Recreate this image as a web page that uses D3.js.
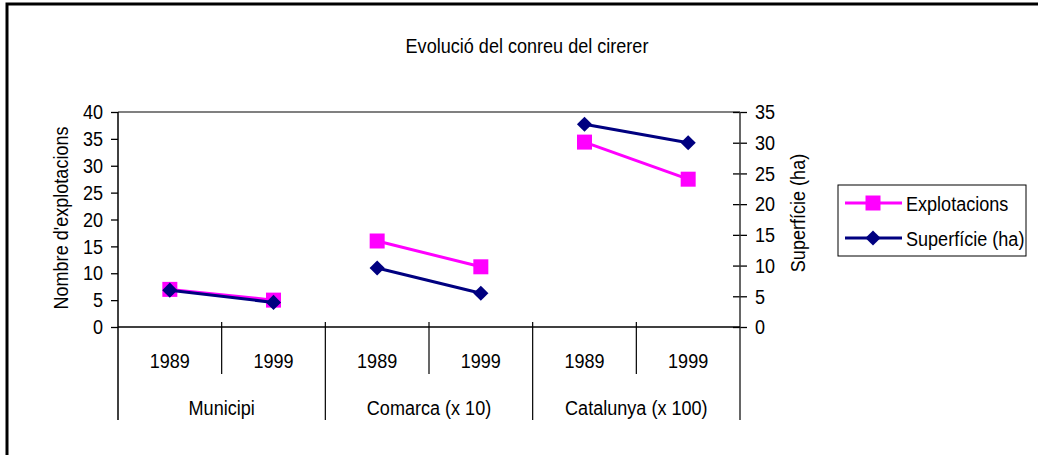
<!DOCTYPE html>
<html>
<head>
<meta charset="utf-8">
<script src="https://cdn.jsdelivr.net/npm/d3@7"></script>
<style>
    body { margin: 0; background: #fff; }
    svg text { font-family: "Liberation Sans", Arial, sans-serif; fill: #000; font-size: 21px; }
</style>
</head>
<body>
<div id="chart"></div>
<script>
// chart data
const groups = ["Municipi", "Comarca (x 10)", "Catalunya (x 100)"];
const years = ["1989", "1999"];
const explotacions = [7, 5, 16, 11.2, 34.4, 27.5];
const superficie = [6, 4, 9.6, 5.5, 33, 30];
const leftTicks = [0, 5, 10, 15, 20, 25, 30, 35, 40];
const rightTicks = [0, 5, 10, 15, 20, 25, 30, 35];

const width = 1038, height = 455;
const plot = {left: 118, right: 740, top: 112, bottom: 327};
const squeeze = 0.86; // no narrow font here, so squeeze Liberation Sans

const svg = d3.select("#chart").append("svg")
    .attr("width", width)
    .attr("height", height);

// text helper: condensed look via horizontal scale
function addText(parent, x, y, str, anchor, rotate) {
    const g = parent.append("g")
        .attr("transform", `translate(${x},${y})` + (rotate ? ` rotate(${rotate})` : ""));
    g.append("text")
        .attr("transform", `scale(${squeeze},1)`)
        .attr("text-anchor", anchor || "middle")
        .attr("dominant-baseline", "central")
        .text(str);
    return g;
}

// outer frame (cut by the picture on right and bottom)
svg.append("rect")
    .attr("x", 7).attr("y", 4)
    .attr("width", 1040).attr("height", 470)
    .attr("fill", "none")
    .attr("stroke", "#000")
    .attr("stroke-width", 3);

// one slot per group/year
const cats = [];
groups.forEach((g, gi) => years.forEach((y, yi) => cats.push({group: g, year: y, gi: gi, i: gi * years.length + yi})));

const x = d3.scaleBand()
    .domain(cats.map(d => d.i))
    .range([plot.left, plot.right])
    .padding(0);

const yL = d3.scaleLinear().domain([0, 40]).range([plot.bottom, plot.top]);
const yR = d3.scaleLinear().domain([0, 35]).range([plot.bottom, plot.top]);

// grey top border of plot area
svg.append("line")
    .attr("x1", plot.left).attr("x2", plot.right)
    .attr("y1", plot.top).attr("y2", plot.top)
    .attr("stroke", "#808080")
    .attr("stroke-width", 2);

// left axis
const axL = svg.append("g")
    .attr("transform", `translate(${plot.left},0)`)
    .call(d3.axisLeft(yL).tickValues(leftTicks).tickSize(7).tickPadding(8));
axL.selectAll(".tick text").attr("x", -15 / squeeze);

// right axis, ticks cross the line
const axR = svg.append("g")
    .attr("transform", `translate(${plot.right},0)`)
    .call(d3.axisRight(yR).tickValues(rightTicks).tickSize(7).tickPadding(8));
axR.selectAll(".tick line").attr("x1", -7);
axR.selectAll(".tick text").attr("x", 15 / squeeze);

[axL, axR].forEach(ax => {
    ax.select(".domain").remove();
    ax.selectAll(".tick line").attr("stroke", "#000").attr("stroke-width", 1.3);
    ax.selectAll(".tick text")
        .attr("font-size", null)
        .attr("font-family", null)
        .attr("fill", "#000")
        .attr("transform", `scale(${squeeze},1)`);
});

// vertical axis lines, extending down through the category table
svg.append("line")
    .attr("x1", plot.left).attr("x2", plot.left)
    .attr("y1", plot.top).attr("y2", 420)
    .attr("stroke", "#000").attr("stroke-width", 1.5);
svg.append("line")
    .attr("x1", plot.right).attr("x2", plot.right)
    .attr("y1", plot.top).attr("y2", 420)
    .attr("stroke", "#333").attr("stroke-width", 1.5);

// bottom axis line
svg.append("line")
    .attr("x1", plot.left).attr("x2", plot.right)
    .attr("y1", plot.bottom).attr("y2", plot.bottom)
    .attr("stroke", "#000").attr("stroke-width", 1.5);

// category separators
const bounds = d3.range(1, cats.length);
svg.selectAll(".sep")
    .data(bounds)
    .enter()
    .append("line")
    .attr("class", "sep")
    .attr("x1", d => x(d))
    .attr("x2", d => x(d))
    .attr("y1", plot.bottom - 5)
    .attr("y2", d => d % years.length === 0 ? 420 : 374)
    .attr("stroke", "#000")
    .attr("stroke-width", 1.2);

// year + group labels
cats.forEach(d => addText(svg, x(d.i) + x.bandwidth() / 2, 360, d.year));
groups.forEach((g, i) => addText(svg, x(i * years.length) + x.bandwidth(), 407, g));

// series
const series = [
    {name: "Explotacions", values: explotacions, y: yL, color: "#FF00FF", rot: 0, size: 225},
    {name: "Superfície (ha)", values: superficie, y: yR, color: "#000080", rot: 45, size: 115}
];

const cx = i => x(i) + x.bandwidth() / 2;
const marker = d3.symbol().type(d3.symbolSquare);

series.forEach(s => {
    const line = d3.line()
        .x(d => cx(d.i))
        .y(d => s.y(d.v));

    groups.forEach((g, gi) => {
        const pts = years.map((y, yi) => {
            const i = gi * years.length + yi;
            return {i: i, v: s.values[i]};
        });
        svg.append("path")
            .datum(pts)
            .attr("d", line)
            .attr("fill", "none")
            .attr("stroke", s.color)
            .attr("stroke-width", 3);
    });

    svg.selectAll(null)
        .data(s.values)
        .enter()
        .append("path")
        .attr("d", marker.size(s.size)())
        .attr("transform", (d, i) => `translate(${cx(i)},${s.y(d)}) rotate(${s.rot})`)
        .attr("fill", s.color);
});

// titles
addText(svg, 527, 45, "Evolució del conreu del cirerer");
addText(svg, 60, 218, "Nombre d'explotacions", "middle", -90);
addText(svg, 797, 213, "Superfície (ha)", "middle", -90);

// legend
const legend = svg.append("g");
legend.append("rect")
    .attr("x", 838).attr("y", 185)
    .attr("width", 188).attr("height", 71)
    .attr("fill", "#fff")
    .attr("stroke", "#000")
    .attr("stroke-width", 1);

series.forEach((s, i) => {
    const ly = 203 + i * 35;
    legend.append("line")
        .attr("x1", 845).attr("x2", 902)
        .attr("y1", ly).attr("y2", ly)
        .attr("stroke", s.color)
        .attr("stroke-width", 3);
    legend.append("path")
        .attr("d", marker.size(s.size)())
        .attr("transform", `translate(873,${ly}) rotate(${s.rot})`)
        .attr("fill", s.color);
    addText(legend, 906, ly, s.name, "start");
});
</script>
</body>
</html>
